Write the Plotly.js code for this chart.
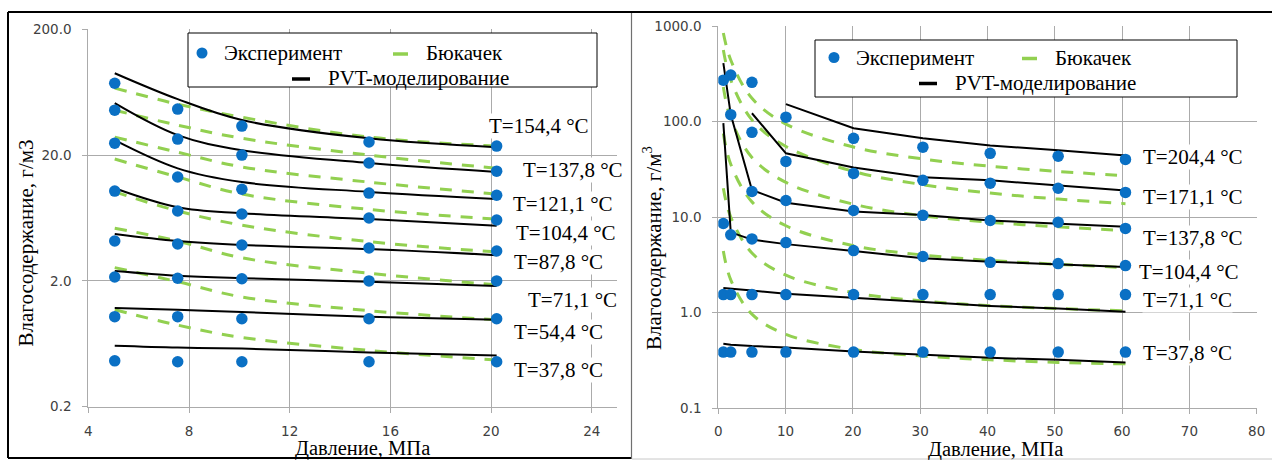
<!DOCTYPE html>
<html>
<head>
<meta charset="utf-8">
<script src="https://cdn.plot.ly/plotly-3.0.1.min.js"></script>
<style>html,body{margin:0;padding:0;background:#fff;}#chart{width:1272px;height:460px;}</style>
</head>
<body>
<div id="chart"></div>
<script>
// ---------- LEFT CHART DATA (pressure, MPa) ----------
const leftPressure = [5.05, 7.55, 10.1, 15.15, 20.22];
const leftLabels = ['T=154,4 °C', 'T=137,8 °C', 'T=121,1 °C', 'T=104,4 °C', 'T=87,8 °C', 'T=71,1 °C', 'T=54,4 °C', 'T=37,8 °C'];
// Experiment
const lExp154 = [74.5, 46.4, 34.0, 25.4, 23.6];
const lExp138 = [45.5, 26.8, 20.0, 17.3, 14.9];
const lExp121 = [24.9, 13.4, 10.7, 9.98, 9.6];
const lExp104 = [10.35, 7.19, 6.8, 6.32, 6.1];
const lExp88  = [4.15, 3.93, 3.86, 3.65, 3.46];
const lExp71  = [2.15, 2.1, 2.08, 2.0, 2.0];
const lExp54  = [1.04, 1.04, 1.0, 1.0, 1.0];
const lExp38  = [0.463, 0.455, 0.455, 0.455, 0.455];
// PVT modelling
const lPvt154 = [89.5, 55.7, 38.0, 27.2, 23.1];
const lPvt138 = [51.7, 28.8, 21.9, 17.3, 14.7];
const lPvt121 = [26.3, 15.7, 12.2, 10.2, 8.95];
const lPvt104 = [10.9, 7.7, 6.9, 6.2, 5.5];
const lPvt88  = [4.72, 4.15, 3.86, 3.58, 3.2];
const lPvt71  = [2.4, 2.2, 2.1, 1.97, 1.82];
const lPvt54  = [1.22, 1.18, 1.13, 1.04, 0.98];
const lPvt38  = [0.61, 0.59, 0.58, 0.54, 0.51];
// Bukacek
const lBuk154 = [68.2, 50.8, 40.0, 27.8, 23.6];
const lBuk138 = [45.5, 34.6, 27.2, 20.0, 15.7];
const lBuk121 = [27.8, 21.1, 16.1, 12.2, 9.8];
const lBuk104 = [18.6, 13.4, 9.8, 7.4, 6.2];
const lBuk88  = [10.2, 7.2, 5.55, 4.1, 3.4];
const lBuk71  = [5.25, 4.15, 3.05, 2.3, 1.86];
const lBuk54  = [2.55, 1.97, 1.49, 1.16, 0.98];
const lBuk38  = [1.18, 0.89, 0.71, 0.56, 0.47];
const leftXTicks = [4, 8, 12, 16, 20, 24];
const leftYTicks = [0.2, 2, 20, 200];
const leftYTickText = ['0.2', '2.0', '20.0', '200.0'];

// ---------- RIGHT CHART DATA ----------
const rightPressure = [0.75, 1.85, 5.0, 10.05, 20.1, 30.4, 40.4, 50.5, 60.5];
const rightLabels = ['T=204,4 °C', 'T=171,1 °C', 'T=137,8 °C', 'T=104,4 °C', 'T=71,1 °C', 'T=37,8 °C'];
const rExp204 = [null, null, 257, 111, 66.6, 53.9, 46.4, 43.3, 40.1];
const rExp171 = [null, 306, 77, 38.2, 28.6, 24.2, 22.6, 20.0, 18.1];
const rExp138 = [271, 118, 18.5, 14.9, 11.7, 10.4, 9.2, 8.8, 7.6];
const rExp104 = [8.55, 6.5, 5.9, 5.4, 4.45, 3.86, 3.35, 3.25, 3.1];
const rExp71  = [1.54, 1.54, 1.54, 1.54, 1.54, 1.54, 1.54, 1.54, 1.54];
const rExp38  = [0.385, 0.385, 0.385, 0.385, 0.385, 0.385, 0.385, 0.385, 0.385];
const rPvt204 = [null, null, null, 152, 85, 66.7, 56, 50, 44];
const rPvt171 = [null, null, 122, 46.4, 33, 26.1, 24.2, 21.5, 19];
const rPvt138 = [409, 118, 19.2, 14.1, 11.4, 10.5, 9.2, 8.6, 7.9];
const rPvt104 = [96, 6.9, 5.8, 5.2, 4.4, 3.7, 3.4, 3.2, 3.0];
const rPvt71  = [1.8, 1.78, 1.7, 1.57, 1.42, 1.27, 1.17, 1.1, 1.02];
const rPvt38  = [0.47, 0.46, 0.445, 0.43, 0.39, 0.36, 0.335, 0.32, 0.30];
const rBuk204 = [845, 440, 175, 94, 54, 40.5, 34, 30, 27];
const rBuk171 = [560, 272, 104, 54.7, 30, 21.8, 17.8, 15.4, 13.8];
const rBuk138 = [230, 107, 42, 23, 13.6, 10.3, 8.8, 7.9, 7.2];
const rBuk104 = [75, 35.7, 14.4, 8.1, 5.0, 4.0, 3.5, 3.2, 2.95];
const rBuk71  = [20, 10, 4.2, 2.46, 1.61, 1.32, 1.18, 1.1, 1.04];
const rBuk38  = [4.4, 2.2, 0.96, 0.59, 0.41, 0.35, 0.32, 0.30, 0.29];
const rightXTicks = [0, 10, 20, 30, 40, 50, 60, 70, 80];
const rightYTicks = [0.1, 1, 10, 100, 1000];
const rightYTickText = ['0.1', '1.0', '10.0', '100.0', '1000.0'];

const legendNames = ['Эксперимент', 'Бюкачек', 'PVT-моделирование'];
const xTitle = 'Давление, МПа';
const yTitleLeft = 'Влагосодержание, г/м3';
const yTitleRight = 'Влагосодержание, г/м<sup>3</sup>';

// ---------- STYLE ----------
const W = 1272, H = 460;
const px = v => v / W;
const py = v => 1 - v / H;
const SERIF = 'Liberation Serif, Times New Roman, serif';
const BLUE = '#0a70c4';
const GREEN = '#92d050';
const GRID = '#ababab';

const leftExp = [lExp154, lExp138, lExp121, lExp104, lExp88, lExp71, lExp54, lExp38];
const leftPvt = [lPvt154, lPvt138, lPvt121, lPvt104, lPvt88, lPvt71, lPvt54, lPvt38];
const leftBuk = [lBuk154, lBuk138, lBuk121, lBuk104, lBuk88, lBuk71, lBuk54, lBuk38];
const rightExp = [rExp204, rExp171, rExp138, rExp104, rExp71, rExp38];
const rightPvt = [rPvt204, rPvt171, rPvt138, rPvt104, rPvt71, rPvt38];
const rightBuk = [rBuk204, rBuk171, rBuk138, rBuk104, rBuk71, rBuk38];

const traces = [];
function addSet(P, buk, pvt, exp, xa, ya, pvtShape) {
  buk.forEach(y => traces.push({x: P, y: y, xaxis: xa, yaxis: ya, mode: 'lines', type: 'scatter', showlegend: false,
    line: {color: GREEN, width: 3, dash: '12px,10px', shape: 'spline', smoothing: 1}, hoverinfo: 'skip'}));
  pvt.forEach(y => traces.push({x: P, y: y, xaxis: xa, yaxis: ya, mode: 'lines', type: 'scatter', showlegend: false, connectgaps: false,
    line: {color: '#000', width: 2, shape: pvtShape, smoothing: 1}, hoverinfo: 'skip'}));
  exp.forEach(y => traces.push({x: P, y: y, xaxis: xa, yaxis: ya, mode: 'markers', type: 'scatter', showlegend: false,
    marker: {color: BLUE, size: 11.5, line: {width: 0}}, hoverinfo: 'skip'}));
}
addSet(leftPressure, leftBuk, leftPvt, leftExp, 'x', 'y', 'spline');
addSet(rightPressure, rightBuk, rightPvt, rightExp, 'x2', 'y2', 'linear');

const axisCommon = {
  showgrid: true, gridcolor: GRID, gridwidth: 1, zeroline: false,
  showline: true, linecolor: GRID, linewidth: 1,
  ticks: 'outside', ticklen: 5, tickcolor: GRID, tickwidth: 1,
  tickfont: {family: 'DejaVu Sans, sans-serif', size: 13.5, color: '#404040'},
  fixedrange: true
};

const layout = {
  width: W, height: H, autosize: false,
  margin: {l: 0, r: 0, t: 0, b: 0, pad: 0},
  paper_bgcolor: '#fff', plot_bgcolor: '#fff',
  showlegend: false,
  xaxis: Object.assign({}, axisCommon, {domain: [px(88.3), px(617)], range: [4, 25], tickmode: 'array', tickvals: leftXTicks, anchor: 'y', ticklabelstandoff: 7}),
  yaxis: Object.assign({}, axisCommon, {domain: [py(406.7), py(29.3)], type: 'log', range: [Math.log10(0.2), Math.log10(200)], tickmode: 'array', tickvals: leftYTicks, ticktext: leftYTickText, anchor: 'x', ticklabelstandoff: 8}),
  xaxis2: Object.assign({}, axisCommon, {domain: [px(718.3), px(1256.7)], range: [0, 80], tickmode: 'array', tickvals: rightXTicks, anchor: 'y2', ticklabelstandoff: 6}),
  yaxis2: Object.assign({}, axisCommon, {domain: [py(408), py(26)], type: 'log', range: [-1, 3], tickmode: 'array', tickvals: rightYTicks, ticktext: rightYTickText, anchor: 'x2', ticklabelstandoff: 8}),
  shapes: [], annotations: []
};

const S = layout.shapes, A = layout.annotations;
function pline(x0, y0, x1, y1, color, width) {
  S.push({type: 'line', xref: 'paper', yref: 'paper', x0: px(x0), x1: px(x1), y0: py(y0), y1: py(y1), line: {color: color, width: width}, layer: 'above'});
}
// panel frames
pline(8, 12, 1272, 12, '#000', 2);       // top edge across both panels
pline(8, 12, 8, 458, '#000', 2);         // left edge
pline(8, 458, 631, 458, '#000', 2);      // bottom of left panel
pline(631.5, 13, 631.5, 459, '#707070', 1.2); // separator
pline(632, 459, 1272, 459, '#c8c8c8', 1); // bottom of right panel

function txt(text, x, y, opts) {
  A.push(Object.assign({text: text, xref: 'paper', yref: 'paper', x: px(x), y: py(y), showarrow: false,
    xanchor: 'left', yanchor: 'middle', font: {family: SERIF, size: 21, color: '#000'}}, opts || {}));
}

// legends (drawn to mirror the original two-row layout)
function legend(box, row1y, row2y, mk, g, b) {
  S.push({type: 'rect', xref: 'paper', yref: 'paper', x0: px(box[0]), x1: px(box[1]), y0: py(box[3]), y1: py(box[2]), fillcolor: '#fff', line: {color: '#000', width: 1}, layer: 'above'});
  S.push({type: 'circle', xref: 'paper', yref: 'paper', x0: px(mk - 5.5), x1: px(mk + 5.5), y0: py(row1y + 5.5), y1: py(row1y - 5.5), fillcolor: BLUE, line: {width: 0}, layer: 'above'});
  txt(legendNames[0], mk + 20, row1y);
  pline(g, row1y + 1, g + 15, row1y + 1, GREEN, 3.5);
  txt(legendNames[1], g + 31, row1y);
  pline(b, row2y + 1, b + 18, row2y + 1, '#000', 3.5);
  txt(legendNames[2], b + 34, row2y);
}
legend([188, 597, 33, 87], 53, 78, 202, 393, 292);
legend([815, 1237, 40, 97], 57.5, 82.5, 834, 1022, 919);

// temperature labels
const leftLabelPos = [[488, 126], [522, 170], [512, 204], [515, 233], [513, 262], [527, 300], [513, 332], [513, 370]];
leftLabels.forEach((t, i) => txt(t, leftLabelPos[i][0], leftLabelPos[i][1], {bgcolor: '#fff', borderpad: 0}));
const rightLabelPos = [[1142, 157], [1142, 197], [1142, 238], [1138, 272], [1142, 300], [1142, 353]];
rightLabels.forEach((t, i) => txt(t, rightLabelPos[i][0], rightLabelPos[i][1], {bgcolor: '#fff', borderpad: 0}));

// axis titles
txt(xTitle, 362.5, 448, {xanchor: 'center', font: {family: SERIF, size: 20.5, color: '#000'}});
txt(xTitle, 995, 449.5, {xanchor: 'center', font: {family: SERIF, size: 20.5, color: '#000'}});
txt(yTitleLeft, 25, 243.5, {xanchor: 'center', textangle: -90});
txt(yTitleRight, 652, 248, {xanchor: 'center', textangle: -90});

Plotly.newPlot('chart', traces, layout, {staticPlot: true, displayModeBar: false});
</script>
</body>
</html>
